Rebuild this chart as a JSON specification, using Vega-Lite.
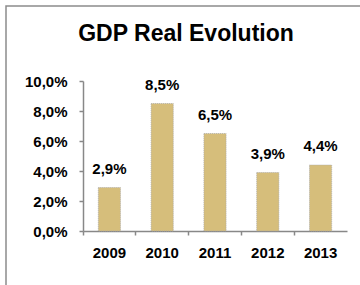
{
  "$schema": "https://vega.github.io/schema/vega-lite/v6.json",
  "autosize": "none",
  "width": 360,
  "height": 285,
  "padding": {"left": 6, "top": 6, "right": 0, "bottom": 0},
  "background": "white",
  "config": {
    "locale": {"number": {"decimal": ",", "thousands": ".", "grouping": [3], "currency": ["", " €"]}},
    "view": {"stroke": "#8c8c8c", "strokeWidth": 1.5},
    "font": "Liberation Sans"
  },
  "title": {
    "text": "GDP Real Evolution",
    "font": "Liberation Sans",
    "fontSize": 23,
    "fontWeight": "bold",
    "color": "black",
    "anchor": "middle",
    "frame": "group",
    "offset": -36,
    "dy": 22,
    "baseline": "alphabetic"
  },
  "data": {"values": [
    {"year": "2009", "growth": 0.029},
    {"year": "2010", "growth": 0.085},
    {"year": "2011", "growth": 0.065},
    {"year": "2012", "growth": 0.039},
    {"year": "2013", "growth": 0.044}
  ]},
  "encoding": {
    "x": {
      "field": "year", "type": "ordinal",
      "scale": {"range": [77, 341], "paddingInner": 0, "paddingOuter": 0},
      "axis": {
        "title": null, "labelAngle": 0, "offset": -60, "bandPosition": 0,
        "tickSize": 4, "tickColor": "#888", "domainColor": "#888", "domainWidth": 1.5, "tickWidth": 1.5,
        "labelFont": "Liberation Sans", "labelFontSize": 15, "labelFontWeight": "bold", "labelColor": "black", "labelPadding": 10
      }
    },
    "y": {
      "field": "growth", "type": "quantitative",
      "scale": {"domain": [0, 0.1], "range": [225, 75], "nice": false, "zero": true},
      "axis": {
        "title": null, "format": ".1%", "values": [0, 0.02, 0.04, 0.06, 0.08, 0.1], "grid": false, "offset": -77,
        "tickSize": 4, "tickColor": "#888", "domainColor": "#888", "domainWidth": 1.5, "tickWidth": 1.5,
        "labelFont": "Liberation Sans", "labelFontSize": 15, "labelFontWeight": "bold", "labelColor": "black", "labelPadding": 12
      }
    }
  },
  "layer": [
    {"mark": {"type": "bar", "width": {"band": 0.42}, "fill": "#D6BE7B", "stroke": "#a8a8a8", "strokeDash": [1, 1], "strokeWidth": 0.8}},
    {"mark": {"type": "text", "baseline": "alphabetic", "dy": -14, "font": "Liberation Sans", "fontSize": 15, "fontWeight": "bold", "color": "black"},
     "encoding": {"text": {"field": "growth", "type": "quantitative", "format": ".1%"}}}
  ]
}
